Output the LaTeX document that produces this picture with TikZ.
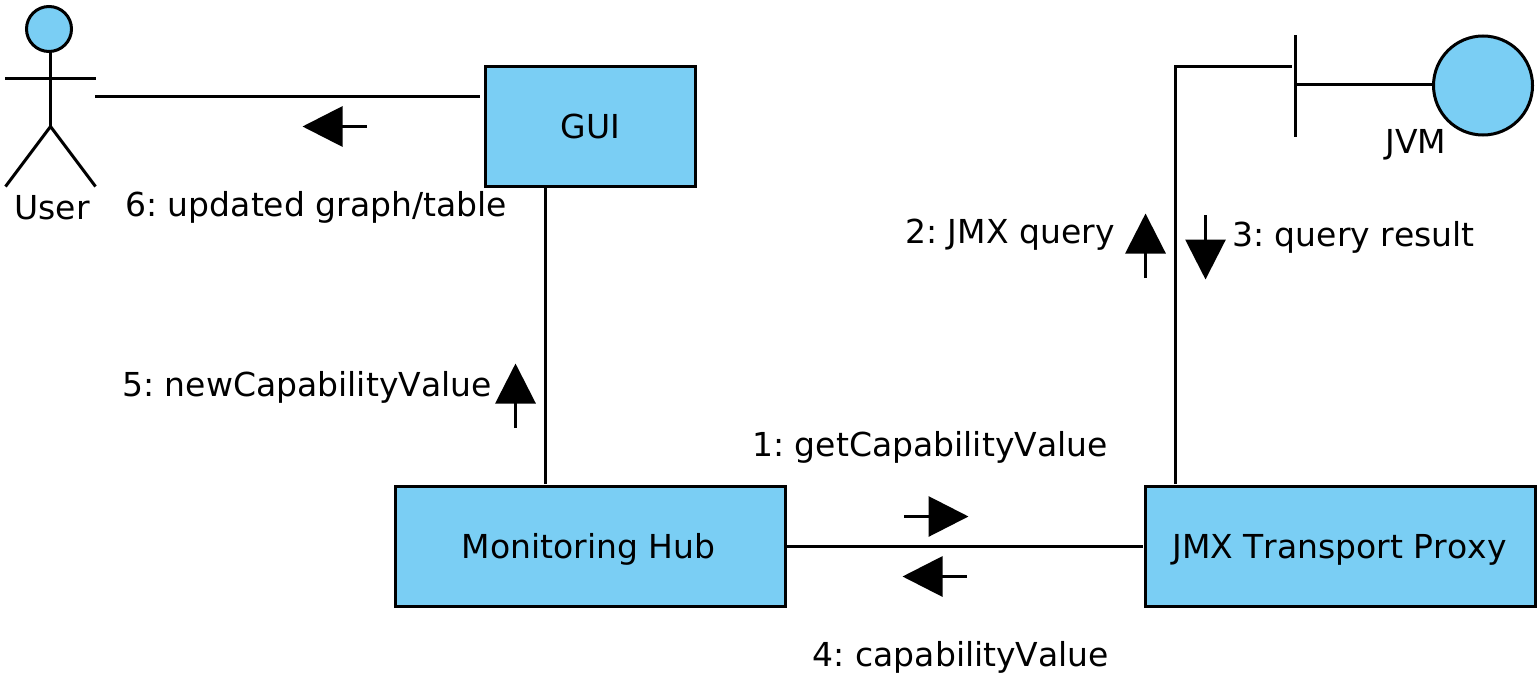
\documentclass[tikz,border=0pt]{standalone}
\usepackage{fontspec}
\setmainfont[Kerning=Off]{DejaVu Sans}
\frenchspacing
\usetikzlibrary{arrows.meta}
\definecolor{boxblue}{HTML}{7ACEF4}
\tikzset{
  ln/.style={line width=1.5pt,line cap=butt},
  box/.style={draw=black,line width=1.5pt,fill=boxblue,inner sep=0pt,text=black,font=\fontsize{16.5pt}{20pt}\selectfont,text height=12.5pt,text depth=0.5pt},
  ball/.style={circle,draw=black,line width=1.5pt,fill=boxblue,inner sep=0pt},
  lab/.style={anchor=base west,inner sep=0pt,font=\fontsize{16.5pt}{20pt}\selectfont},
  flow/.style={line width=1.5pt,-{Triangle[length=20pt,width=20pt]}}
}
\begin{document}
\begin{tikzpicture}[x=0.5pt,y=-0.5pt]
\useasboundingbox (0,0) rectangle (1540,674);
% boxes
\node[box,minimum width=105pt,minimum height=60pt] (gui) at (590.5,126.5) {GUI};
\node[box,minimum width=195pt,minimum height=60pt] (hub) at (590.5,546.5) {\hspace{-2pt}Monitoring Hub};
\node[box,minimum width=195pt,minimum height=60pt] (proxy) at (1340.5,546.5) {\hspace{-1pt}JMX Transport Proxy};
% actor
\node[ball,minimum size=22.5pt] (head) at (49,29) {};
\coordinate (neck) at (50.5,51);
\coordinate (hip) at (50.5,126.5);
\coordinate (armL) at (5,78.5);
\coordinate (armR) at (95.5,78.5);
\coordinate (legL) at (5.5,186.5);
\coordinate (legR) at (95.5,186.5);
\draw[ln] (neck) -- (hip);
\draw[ln] (armL) -- (armR);
\draw[ln] (legL) -- (hip) -- (legR);
% lollipop
\coordinate (barT) at (1295.5,35.5);
\coordinate (barB) at (1295.5,136.5);
\coordinate (barM) at (1295.5,85);
\node[ball,minimum size=49.5pt] (jvm) at (1483,85.5) {};
\draw[ln] (barT) -- (barB);
\draw[ln] (barM) -- (barM -| jvm.west);
% connectors
\coordinate (u1) at (95,96.5);
\coordinate (u2) at (480,96.5);
\draw[ln] (u1) -- (u2);
\coordinate (g1) at (545.5,186);
\coordinate (g2) at (545.5,483.5);
\draw[ln] (g1) -- (g2);
\coordinate (h2) at (1142.5,546.5);
\draw[ln] (hub.east) -- (h2);
\coordinate (p1) at (1175.5,483.5);
\coordinate (p2) at (1175.5,66.5);
\coordinate (p3) at (1292,66.5);
\draw[ln,line join=miter] (p1) -- (p2) -- (p3);
% message arrows
\coordinate (a1s) at (904,516.5);  \coordinate (a1e) at (968.5,516.5);
\coordinate (a2s) at (1145.5,278); \coordinate (a2e) at (1145.5,213.5);
\coordinate (a3s) at (1205.5,215); \coordinate (a3e) at (1205.5,279.5);
\coordinate (a4s) at (967,576.5);  \coordinate (a4e) at (902.5,576.5);
\coordinate (a5s) at (515.5,428);  \coordinate (a5e) at (515.5,363.5);
\coordinate (a6s) at (367,126.5);  \coordinate (a6e) at (302.5,126.5);
\draw[flow] (a1s) -- (a1e);
\draw[flow] (a2s) -- (a2e);
\draw[flow] (a3s) -- (a3e);
\draw[flow] (a4s) -- (a4e);
\draw[flow] (a5s) -- (a5e);
\draw[flow] (a6s) -- (a6e);
% labels
\node[lab] (lu) at (14,219) {User};
\node[lab] (l6) at (125,216) {6: updated graph/table};
\node[lab] (lj) at (1385,153.5) {JVM};
\node[lab] (l2) at (905,243) {2: JMX query};
\node[lab] (l3) at (1232,246.5) {3: query result};
\node[lab] (l5) at (122,396) {5: newCapabilityValue};
\node[lab] (l1) at (752,456) {1: getCapabilityValue};
\node[lab] (l4) at (812.5,666.5) {4: capabilityValue};
\end{tikzpicture}
\end{document}
